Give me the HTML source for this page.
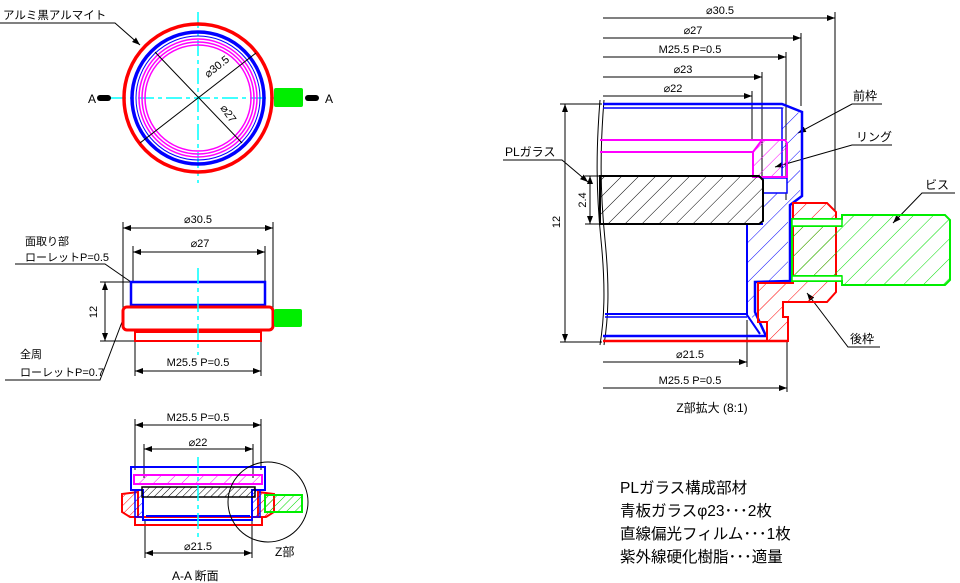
<!DOCTYPE html>
<html><head><meta charset="utf-8"><style>
html,body{margin:0;padding:0;background:#fff;}
svg{display:block;font-family:"Liberation Sans","Noto Sans CJK JP",sans-serif;}
</style></head><body>
<svg width="960" height="583" viewBox="0 0 960 583" xmlns="http://www.w3.org/2000/svg">
<defs>
<pattern id="hk" width="12" height="12" patternUnits="userSpaceOnUse" patternTransform="rotate(45)"><line x1="0" y1="0" x2="0" y2="12" stroke="#000" stroke-width="1"/></pattern>
<pattern id="hb" width="14" height="14" patternUnits="userSpaceOnUse" patternTransform="rotate(45)"><line x1="0" y1="0" x2="0" y2="14" stroke="#00f" stroke-width="1"/></pattern>
<pattern id="hr" width="14" height="14" patternUnits="userSpaceOnUse" patternTransform="rotate(45)"><line x1="0" y1="0" x2="0" y2="14" stroke="#f00" stroke-width="1"/></pattern>
<pattern id="hg" width="14" height="14" patternUnits="userSpaceOnUse" patternTransform="rotate(45)"><line x1="0" y1="0" x2="0" y2="14" stroke="#0d0" stroke-width="1"/></pattern>
<pattern id="hp" width="10" height="10" patternUnits="userSpaceOnUse" patternTransform="rotate(45)"><line x1="0" y1="0" x2="0" y2="10" stroke="#f0f" stroke-width="1"/></pattern>
<pattern id="hk2" width="5" height="5" patternUnits="userSpaceOnUse" patternTransform="rotate(45)"><line x1="0" y1="0" x2="0" y2="5" stroke="#000" stroke-width="1"/></pattern>
<pattern id="hr2" width="6" height="6" patternUnits="userSpaceOnUse" patternTransform="rotate(45)"><line x1="0" y1="0" x2="0" y2="6" stroke="#f00" stroke-width="1"/></pattern>
<pattern id="hb2" width="6" height="6" patternUnits="userSpaceOnUse" patternTransform="rotate(45)"><line x1="0" y1="0" x2="0" y2="6" stroke="#00f" stroke-width="1"/></pattern>
<pattern id="hg2" width="6" height="6" patternUnits="userSpaceOnUse" patternTransform="rotate(45)"><line x1="0" y1="0" x2="0" y2="6" stroke="#0d0" stroke-width="1"/></pattern>
<marker id="ar" markerWidth="8" markerHeight="6" refX="8" refY="3" orient="auto-start-reverse" markerUnits="userSpaceOnUse"><path d="M0,0 L8,3 L0,6z" fill="#000"/></marker>
</defs>

<!-- ============ TOP LEFT CIRCLE VIEW ============ -->
<g fill="none">
<line x1="110" y1="98" x2="285" y2="98" stroke="#0ff" stroke-width="1.5" stroke-dasharray="16,4,4,4"/>
<line x1="198" y1="12" x2="198" y2="183" stroke="#0ff" stroke-width="1.5" stroke-dasharray="16,4,4,4"/>
<circle cx="198" cy="98" r="74" stroke="#f00" stroke-width="3.5"/>
<circle cx="198" cy="98" r="66" stroke="#00f" stroke-width="3.5"/>
<circle cx="198" cy="98" r="62" stroke="#00f" stroke-width="1"/>
<circle cx="198" cy="98" r="59" stroke="#f0f" stroke-width="1.5"/>
<circle cx="198" cy="98" r="56" stroke="#f0f" stroke-width="1.5"/>
<circle cx="198" cy="98" r="53" stroke="#f0f" stroke-width="1.5"/>
<line x1="140" y1="143" x2="256" y2="53" stroke="#000" stroke-width="1"/>
<line x1="155" y1="52" x2="242" y2="143" stroke="#000" stroke-width="1"/>
<polyline points="0,23 115,23 140,45" stroke="#000" stroke-width="1" marker-end="url(#ar)"/>
</g>
<rect x="274" y="88" width="29" height="19" rx="2" fill="#0e0"/>
<rect x="97" y="95" width="14" height="6" rx="3" fill="#000"/>
<rect x="305" y="95" width="14" height="6" rx="3" fill="#000"/>
<text x="88" y="103" font-size="12">A</text>
<text x="325" y="103" font-size="12">A</text>
<text x="3" y="19" font-size="11.5">アルミ黒アルマイト</text>
<text x="0" y="0" font-size="11" transform="translate(208,78) rotate(-38)">⌀30.5</text>
<text x="0" y="0" font-size="11" transform="translate(220,108) rotate(55)">⌀27</text>

<!-- ============ MIDDLE LEFT SIDE VIEW ============ -->
<g fill="none" stroke="#000" stroke-width="1">
<line x1="123" y1="222" x2="123" y2="308"/>
<line x1="273" y1="222" x2="273" y2="308"/>
<line x1="123" y1="228" x2="273" y2="228" marker-start="url(#ar)" marker-end="url(#ar)"/>
<line x1="133" y1="246" x2="133" y2="282"/>
<line x1="265" y1="246" x2="265" y2="282"/>
<line x1="133" y1="252" x2="265" y2="252" marker-start="url(#ar)" marker-end="url(#ar)"/>
<line x1="100" y1="282" x2="131" y2="282"/>
<line x1="100" y1="341" x2="135" y2="341"/>
<line x1="105" y1="282" x2="105" y2="341" marker-start="url(#ar)" marker-end="url(#ar)"/>
<line x1="135" y1="341" x2="135" y2="376"/>
<line x1="261" y1="341" x2="261" y2="376"/>
<line x1="135" y1="371" x2="261" y2="371" marker-start="url(#ar)" marker-end="url(#ar)"/>
<polyline points="15,264 105,264 131,282"/>
<polyline points="5,380 100,380 122,322"/>
</g>
<rect x="131" y="282" width="134" height="23" fill="none" stroke="#00f" stroke-width="2.5"/>
<rect x="123" y="307" width="150" height="23" rx="4" fill="none" stroke="#f00" stroke-width="3"/>
<rect x="135" y="332" width="126" height="9" fill="none" stroke="#f00" stroke-width="2"/>
<rect x="274" y="309" width="28" height="18" rx="2" fill="#0e0"/>
<line x1="198" y1="268" x2="198" y2="355" stroke="#0ff" stroke-width="1.5" stroke-dasharray="16,4,4,4"/>
<text x="198" y="223" font-size="11" text-anchor="middle">⌀30.5</text>
<text x="200" y="247" font-size="11" text-anchor="middle">⌀27</text>
<text x="198" y="366" font-size="11" text-anchor="middle">M25.5 P=0.5</text>
<text x="0" y="0" font-size="11" text-anchor="middle" transform="translate(97,312) rotate(-90)">12</text>
<text x="25" y="245" font-size="11">面取り部</text>
<text x="25" y="261" font-size="11">ローレットP=0.5</text>
<text x="20" y="358" font-size="11">全周</text>
<text x="20" y="376" font-size="11">ローレットP=0.7</text>

<!-- ============ BOTTOM LEFT SECTION A-A ============ -->
<g fill="none" stroke="#000" stroke-width="1">
<line x1="135" y1="419" x2="135" y2="470"/>
<line x1="261" y1="419" x2="261" y2="470"/>
<line x1="135" y1="425" x2="261" y2="425" marker-start="url(#ar)" marker-end="url(#ar)"/>
<line x1="144" y1="444" x2="144" y2="478"/>
<line x1="253" y1="444" x2="253" y2="478"/>
<line x1="144" y1="449" x2="253" y2="449" marker-start="url(#ar)" marker-end="url(#ar)"/>
<line x1="145" y1="520" x2="145" y2="558"/>
<line x1="252" y1="520" x2="252" y2="558"/>
<line x1="145" y1="553" x2="252" y2="553" marker-start="url(#ar)" marker-end="url(#ar)"/>
</g>
<!-- red rear -->
<path d="M122,494 L138,492 L138,517 L130,517 L122,512 Z" fill="url(#hr2)" stroke="#f00" stroke-width="2"/>
<path d="M258,492 L274,494 L274,512 L266,517 L258,517 Z" fill="url(#hr2)" stroke="#f00" stroke-width="2"/>
<path d="M135,517 L262,517 L262,525 L135,525 Z" fill="none" stroke="#f00" stroke-width="2"/>
<!-- blue front -->
<path d="M131,467 L265,467 L265,490 L252,490 L252,520 L143,520 L143,490 L131,490 Z" fill="none" stroke="#00f" stroke-width="2"/>
<path d="M135,490 L143,490 L143,517 L135,517 Z" fill="url(#hb2)" stroke="#00f" stroke-width="1.5"/>
<path d="M252,490 L260,490 L260,517 L252,517 Z" fill="url(#hb2)" stroke="#00f" stroke-width="1.5"/>
<line x1="146" y1="516" x2="250" y2="516" stroke="#00f" stroke-width="2"/>
<rect x="134" y="475" width="128" height="9" fill="url(#hp)" stroke="#f0f" stroke-width="2"/>
<rect x="142" y="487" width="113" height="10" fill="url(#hk2)" stroke="#000" stroke-width="1.5"/>
<rect x="265" y="495" width="37" height="17" fill="url(#hg2)" stroke="#0e0" stroke-width="2"/>
<line x1="198" y1="457" x2="198" y2="537" stroke="#0ff" stroke-width="1.5" stroke-dasharray="16,4,4,4"/>
<circle cx="268" cy="502" r="40" fill="none" stroke="#000" stroke-width="1"/>
<text x="198" y="421" font-size="11" text-anchor="middle">M25.5 P=0.5</text>
<text x="198" y="446" font-size="11" text-anchor="middle">⌀22</text>
<text x="198" y="550" font-size="11" text-anchor="middle">⌀21.5</text>
<text x="275" y="556" font-size="12">Z部</text>
<text x="172" y="580" font-size="12">A-A 断面</text>

<!-- ============ RIGHT DETAIL Z ============ -->
<g fill="none" stroke="#000" stroke-width="1">
<line x1="603" y1="18" x2="835" y2="18" marker-end="url(#ar)"/>
<line x1="835" y1="12" x2="835" y2="212"/>
<line x1="603" y1="38" x2="801" y2="38" marker-end="url(#ar)"/>
<line x1="801" y1="33" x2="801" y2="106"/>
<line x1="603" y1="57" x2="786" y2="57" marker-end="url(#ar)"/>
<line x1="786" y1="52" x2="786" y2="200"/>
<line x1="603" y1="77" x2="762" y2="77" marker-end="url(#ar)"/>
<line x1="762" y1="72" x2="762" y2="178"/>
<line x1="603" y1="96" x2="752" y2="96" marker-end="url(#ar)"/>
<line x1="752" y1="91" x2="752" y2="140"/>
<line x1="603" y1="362" x2="747" y2="362" marker-end="url(#ar)"/>
<line x1="747" y1="320" x2="747" y2="367"/>
<line x1="603" y1="388" x2="787" y2="388" marker-end="url(#ar)"/>
<line x1="787" y1="342" x2="787" y2="392"/>
<line x1="560" y1="104" x2="602" y2="104"/>
<line x1="560" y1="342" x2="602" y2="342"/>
<line x1="565" y1="104" x2="565" y2="342" marker-start="url(#ar)" marker-end="url(#ar)"/>
<line x1="585" y1="176" x2="602" y2="176"/>
<line x1="585" y1="224" x2="602" y2="224"/>
<line x1="590" y1="176" x2="590" y2="224" marker-start="url(#ar)" marker-end="url(#ar)"/>
<path d="M600,100 C596,150 596,190 601,240 C606,290 604,320 600,345"/>
<path d="M604,100 C600,150 600,190 605,240 C610,290 608,320 604,345"/>
<polyline points="503,160 562,160 588,182" marker-end="url(#ar)"/>
<polyline points="882,104 852,104 798,133" marker-end="url(#ar)"/>
<polyline points="892,145 852,145 775,167" marker-end="url(#ar)"/>
<polyline points="955,193 922,193 893,223" marker-end="url(#ar)"/>
<polyline points="880,347 848,347 807,293" marker-end="url(#ar)"/>
</g>
<!-- blue front frame -->
<path d="M747,224 L762,224 L762,193 L787,193 L790,205 L802,196 L802,112 L790,105 L790,281 L755,283 L755,315 Z" fill="none" stroke="none"/>
<path d="M782,107 L800,113 L800,195 L788,205 L788,281 L756,283 L756,313 L762,322 L747,315 L747,224 L762,224 L762,193 L787,193 L787,178 L782,178 Z" fill="url(#hb)" stroke="none"/>
<path d="M603,104 L782,104 L802,112 L802,196 L790,205 L790,281 L755,282 L755,312 L766,336 L603,336" fill="none" stroke="#00f" stroke-width="2.5"/>
<path d="M603,108 L782,108 L782,178" fill="none" stroke="#00f" stroke-width="1.5"/>
<path d="M763,224 L747,224 L747,315 L760,334" fill="none" stroke="#00f" stroke-width="2"/>
<line x1="605" y1="314" x2="747" y2="314" stroke="#00f" stroke-width="2"/>
<line x1="605" y1="317" x2="747" y2="317" stroke="#00f" stroke-width="1.5"/>
<rect x="763" y="178" width="24" height="15" fill="#fff" stroke="#00f" stroke-width="1.5"/>
<!-- pink ring -->
<line x1="600" y1="140" x2="785" y2="140" stroke="#f0f" stroke-width="2"/>
<line x1="600" y1="152" x2="753" y2="152" stroke="#f0f" stroke-width="2"/>
<path d="M753,152 L762,140 L785,140 L787,143 L787,177 L753,177 Z" fill="url(#hp)" stroke="#f0f" stroke-width="2"/>
<!-- glass -->
<path d="M600,176 L759,176 L763,180 L763,221 L759,224 L600,224 Z" fill="url(#hk)" stroke="#000" stroke-width="2"/>
<!-- red rear frame -->
<path d="M793,203 L827,203 L836,212 L836,292 L827,302 L783,302 L783,317 L788,317 L788,341 L767,341 L767,322 L758,322 L758,283 L790,283 L793,283 Z" fill="url(#hr)" stroke="#f00" stroke-width="2"/>
<line x1="603" y1="341" x2="788" y2="341" stroke="#f00" stroke-width="2.5"/>
<!-- green screw -->
<path d="M792,219 L842,219 L842,215 L945,215 L950,220 L950,280 L945,285 L842,285 L842,281 L792,281 Z" fill="url(#hg)" stroke="#0e0" stroke-width="2"/>
<line x1="792" y1="226" x2="842" y2="226" stroke="#0e0" stroke-width="2"/>
<line x1="792" y1="276" x2="842" y2="276" stroke="#0e0" stroke-width="2"/>
<rect x="792" y="219" width="50" height="7" fill="#fff" stroke="#0e0" stroke-width="1.5"/>
<rect x="792" y="276" width="50" height="5" fill="#fff" stroke="#0e0" stroke-width="1.5"/>

<g font-size="11" text-anchor="middle">
<text x="720" y="14">⌀30.5</text>
<text x="693" y="34">⌀27</text>
<text x="690" y="53">M25.5 P=0.5</text>
<text x="683" y="73">⌀23</text>
<text x="673" y="92">⌀22</text>
<text x="690" y="358">⌀21.5</text>
<text x="690" y="384">M25.5 P=0.5</text>
</g>
<text x="712" y="412" font-size="12" text-anchor="middle">Z部拡大 (8:1)</text>
<text x="0" y="0" font-size="11" text-anchor="middle" transform="translate(560,222) rotate(-90)">12</text>
<text x="0" y="0" font-size="11" text-anchor="middle" transform="translate(586,200) rotate(-90)">2.4</text>
<g font-size="12">
<text x="505" y="156">PLガラス</text>
<text x="853" y="100">前枠</text>
<text x="856" y="141">リング</text>
<text x="925" y="189">ビス</text>
<text x="850" y="343">後枠</text>
</g>

<!-- ============ PARTS LIST ============ -->
<g font-size="15.5">
<text x="620" y="493">PLガラス構成部材</text>
<text x="620" y="516">青板ガラスφ23･･･2枚</text>
<text x="620" y="539">直線偏光フィルム･･･1枚</text>
<text x="620" y="562">紫外線硬化樹脂･･･適量</text>
</g>
</svg>
</body></html>
